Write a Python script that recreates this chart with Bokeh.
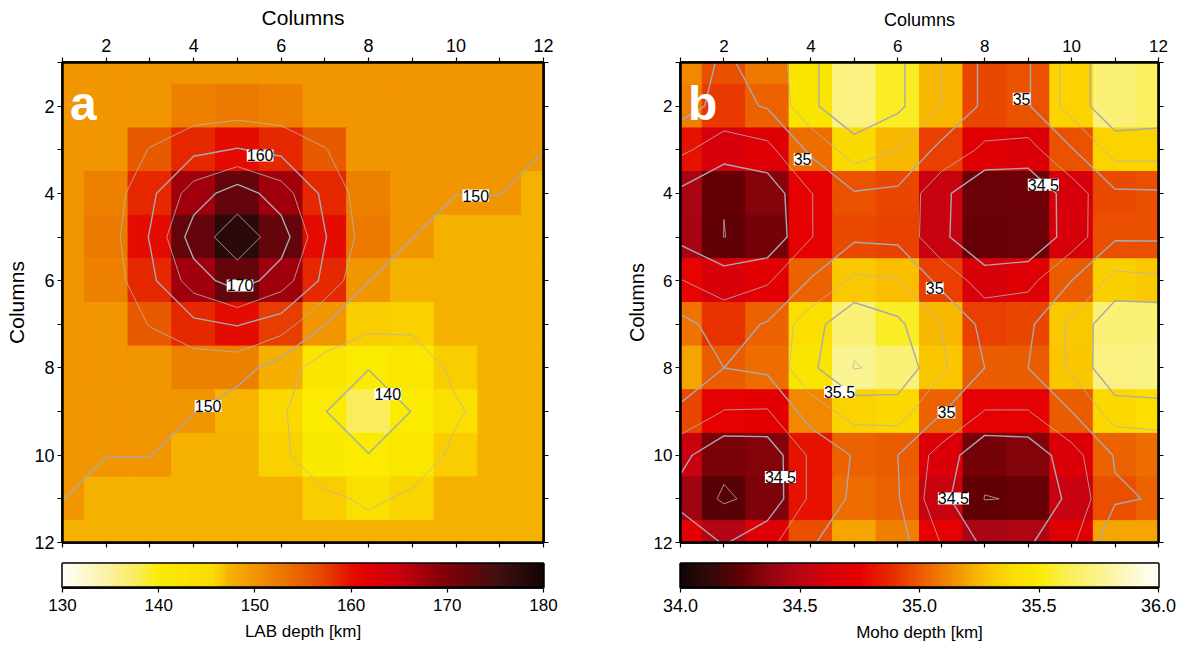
import numpy as np
from bokeh.plotting import figure
from bokeh.models import (Range1d, FixedTicker, LinearColorMapper, LabelSet, Label,
                          ColumnDataSource, LinearAxis)
from bokeh.core.properties import value
from bokeh.layouts import row, column
from bokeh.transform import linear_cmap
from bokeh.embed import file_html
from bokeh.resources import INLINE

# ---------------- data ----------------
columns = list(range(1, 13))
rows = list(range(1, 13))

lab_depth = [
    [150.1, 150.1, 150.1, 150.1, 150.1, 150.1, 150.1, 150.1, 150.1, 150.1, 150.1, 150.1],
    [150.1, 150.1, 150.1, 152.0, 152.5, 152.0, 150.1, 150.1, 150.1, 150.1, 150.1, 150.1],
    [150.1, 150.1, 155.3, 158.7, 160.3, 158.7, 155.3, 150.1, 150.1, 150.1, 150.1, 150.1],
    [150.1, 152.0, 158.7, 167.5, 172.5, 167.5, 158.7, 152.0, 150.1, 150.1, 150.1, 147.5],
    [150.1, 152.5, 160.3, 172.5, 177.8, 172.5, 160.3, 152.5, 150.1, 147.5, 147.5, 147.5],
    [150.1, 152.0, 158.7, 167.5, 172.5, 167.5, 158.7, 150.1, 147.5, 147.5, 147.5, 147.5],
    [150.1, 150.1, 155.3, 158.7, 160.3, 157.5, 150.1, 146.3, 146.1, 147.5, 147.5, 147.5],
    [150.1, 150.1, 150.1, 152.0, 152.0, 147.7, 142.2, 140.1, 141.7, 146.3, 147.5, 147.5],
    [150.1, 150.1, 150.1, 150.1, 147.3, 145.8, 140.1, 137.5, 140.1, 144.3, 147.5, 147.5],
    [150.1, 150.1, 150.1, 147.5, 147.5, 146.2, 140.6, 140.1, 141.7, 146.3, 147.5, 147.5],
    [150.1, 147.5, 147.5, 147.5, 147.5, 147.5, 146.3, 144.1, 146.0, 147.5, 147.5, 147.5],
    [147.5, 147.5, 147.5, 147.5, 147.5, 147.5, 147.5, 147.5, 147.5, 147.5, 147.5, 147.5],
]

moho_depth = [
    [35.12, 34.97, 35.08, 35.45, 35.72, 35.55, 35.25, 34.95, 34.98, 35.35, 35.70, 35.65],
    [35.10, 34.92, 35.02, 35.45, 35.72, 35.55, 35.25, 34.95, 34.98, 35.35, 35.70, 35.65],
    [34.80, 34.62, 34.68, 35.05, 35.38, 35.25, 34.93, 34.70, 34.66, 34.98, 35.35, 35.35],
    [34.45, 34.253, 34.34, 34.74, 34.98, 34.95, 34.57, 34.27, 34.28, 34.62, 34.96, 34.97],
    [34.44, 34.248, 34.30, 34.74, 34.96, 34.94, 34.56, 34.26, 34.27, 34.62, 34.97, 34.97],
    [34.76, 34.63, 34.72, 35.02, 35.30, 35.27, 34.93, 34.63, 34.68, 35.00, 35.33, 35.30],
    [35.07, 34.90, 35.02, 35.40, 35.70, 35.55, 35.25, 34.93, 34.95, 35.30, 35.70, 35.70],
    [35.20, 35.00, 35.05, 35.45, 35.76, 35.70, 35.29, 35.00, 35.00, 35.29, 35.72, 35.73],
    [34.95, 34.74, 34.73, 35.12, 35.35, 35.37, 35.02, 34.74, 34.74, 35.00, 35.37, 35.40],
    [34.57, 34.31, 34.33, 34.80, 35.02, 35.00, 34.65, 34.30, 34.33, 34.65, 35.02, 35.05],
    [34.41, 34.22, 34.32, 34.80, 35.05, 35.02, 34.57, 34.245, 34.26, 34.57, 34.97, 35.02],
    [34.72, 34.48, 34.68, 34.97, 35.20, 35.10, 34.74, 34.45, 34.47, 34.70, 35.20, 35.20],
]

lab_ticks = [130, 140, 150, 160, 170, 180]
moho_ticks = [34.0, 34.5, 35.0, 35.5, 36.0]
moho_tick_labels = ["34.0", "34.5", "35.0", "35.5", "36.0"]
axis_major = [2, 4, 6, 8, 10, 12]
axis_minor = [1, 3, 5, 7, 9, 11]

lab_thick_levels = [140, 150, 160, 170]
lab_thin_levels = [145, 155, 165, 175]
moho_thick_levels = [34.5, 35.0, 35.5]
moho_thin_levels = [34.25, 34.75, 35.25, 35.75]

lab_label_text = ["160", "170", "150", "150", "140"]
lab_label_x = [5.52, 5.06, 10.45, 4.33, 8.44]
lab_label_y = [3.13, 6.11, 4.05, 8.87, 8.60]
moho_label_text = ["35", "35", "34.5", "35", "35.5", "35", "34.5", "34.5"]
moho_label_x = [8.85, 3.81, 9.35, 6.85, 4.66, 7.12, 3.30, 7.28]
moho_label_y = [1.83, 3.22, 3.80, 6.17, 8.55, 9.02, 10.50, 10.99]

# ---------------- palettes ----------------
def build_palette(anchors, n=256):
    t = np.array([a[0] for a in anchors])
    cols = np.array([a[1] for a in anchors], dtype=float)
    s = np.linspace(0, 1, n)
    out = []
    for v in s:
        r = np.interp(v, t, cols[:, 0]); g = np.interp(v, t, cols[:, 1]); b = np.interp(v, t, cols[:, 2])
        out.append("#%02x%02x%02x" % (int(round(r)), int(round(g)), int(round(b))))
    return out

lab_pal = build_palette([
    (0.00, (255, 255, 250)), (0.09, (250, 242, 165)), (0.16, (250, 236, 80)),
    (0.20, (250, 235, 0)), (0.31, (250, 220, 0)), (0.33, (249, 200, 0)),
    (0.34, (246, 182, 0)), (0.40, (241, 149, 0)), (0.47, (235, 112, 0)),
    (0.54, (230, 70, 0)), (0.60, (228, 15, 0)), (0.63, (228, 0, 0)),
    (0.70, (200, 0, 15)), (0.78, (140, 0, 10)), (0.85, (100, 5, 10)),
    (0.90, (70, 15, 18)), (1.00, (20, 5, 5))])

moho_pal = build_palette([
    (0.00, (20, 5, 5)), (0.06, (50, 10, 10)), (0.125, (100, 0, 5)),
    (0.19, (150, 5, 15)), (0.25, (185, 5, 20)), (0.31, (215, 0, 10)),
    (0.375, (230, 0, 0)), (0.45, (232, 50, 0)), (0.50, (235, 90, 0)),
    (0.55, (240, 128, 0)), (0.60, (245, 165, 0)), (0.65, (250, 200, 0)),
    (0.70, (250, 222, 0)), (0.75, (250, 235, 0)), (0.80, (250, 238, 70)),
    (0.875, (250, 242, 140)), (1.00, (255, 255, 250))])

FONT = "Liberation Sans"
THICK_COL = "#a8a8b2"
THIN_COL = "#b4b4b4"


def style_axis(ax, label_size, show_labels=True):
    ax.ticker = FixedTicker(ticks=axis_major, minor_ticks=axis_minor)
    ax.axis_line_color = "black"
    ax.axis_line_width = 2.5
    ax.major_tick_line_color = "black"
    ax.minor_tick_line_color = "black"
    ax.major_tick_line_width = 1.2
    ax.minor_tick_line_width = 1.2
    ax.major_tick_in = 0
    ax.major_tick_out = 5
    ax.minor_tick_in = 0
    ax.minor_tick_out = 5
    ax.major_label_text_font = FONT
    ax.axis_label_text_font = FONT
    ax.axis_label_text_font_style = "normal"
    ax.axis_label_text_color = "black"
    if show_labels:
        ax.major_label_text_color = "black"
        ax.major_label_text_font_size = label_size
    else:
        ax.major_label_text_color = None
        ax.major_label_text_font_size = "1px"
        ax.major_label_standoff = 0


def make_panel(vals, pal, lo, hi, thick, thin, ltext, lx, ly, letter,
               frame_w, left_b, right_b, tick_size, top_title_size, left_title_size):
    p = figure(frame_width=frame_w, frame_height=480,
               x_range=Range1d(1, 12), y_range=Range1d(12, 1),
               x_axis_location="above", output_backend="svg", toolbar_location=None,
               min_border_left=left_b, min_border_right=right_b,
               min_border_top=62, min_border_bottom=19)
    p.xgrid.visible = False
    p.ygrid.visible = False
    p.background_fill_color = "white"
    p.border_fill_color = "white"
    p.outline_line_color = "black"
    p.outline_line_width = 2.5

    xs, ys, vs = [], [], []
    for j, yv in enumerate(rows):
        for i, xv in enumerate(columns):
            xs.append(xv); ys.append(yv); vs.append(vals[j][i])
    src = ColumnDataSource(dict(x=xs, y=ys, v=vs))
    cmap = linear_cmap("v", pal, lo, hi)
    p.rect(x="x", y="y", width=1, height=1, source=src,
           fill_color=cmap, line_color=cmap, line_width=1.0)

    z = np.array(vals, dtype=float)
    p.contour(x=columns, y=rows, z=z, levels=thin, line_color=THIN_COL, line_width=0.8)
    p.contour(x=columns, y=rows, z=z, levels=thick, line_color=THICK_COL, line_width=1.4)

    lsrc = ColumnDataSource(dict(x=lx, y=ly, t=ltext))
    p.add_layout(LabelSet(x="x", y="y", text="t", source=lsrc,
                          text_font=value(FONT), text_font_size=value("16px"),
                          text_color="black",
                          text_align="center", text_baseline="middle",
                          background_fill_color="white"))

    p.add_layout(Label(x=1.17, y=1.95, text=letter, text_color="white",
                       text_font=FONT, text_font_size="48px", text_font_style="bold",
                       text_baseline="alphabetic", text_align="left"))

    top = p.xaxis[0]
    style_axis(top, tick_size)
    top.axis_label = "Columns"
    top.axis_label_text_font_size = top_title_size
    top.major_label_standoff = 6
    top.axis_label_standoff = 7

    left = p.yaxis[0]
    style_axis(left, tick_size)
    left.axis_label = "Columns"
    left.axis_label_text_font_size = left_title_size
    left.major_label_standoff = 3
    left.axis_label_standoff = 3

    bottom = LinearAxis()
    style_axis(bottom, tick_size, show_labels=False)
    p.add_layout(bottom, "below")
    right = LinearAxis()
    style_axis(right, tick_size, show_labels=False)
    p.add_layout(right, "right")
    return p


def make_colorbar(pal, lo, hi, ticks, tick_labels, title, frame_w, left_b, right_b, lsize):
    cb = figure(frame_width=frame_w, frame_height=24,
                x_range=Range1d(lo, hi), y_range=Range1d(0, 1),
                output_backend="svg", toolbar_location=None,
                min_border_left=left_b, min_border_right=right_b,
                min_border_top=2, min_border_bottom=58)
    cb.xgrid.visible = False
    cb.ygrid.visible = False
    cb.yaxis.visible = False
    cb.border_fill_color = "white"
    cb.outline_line_color = "black"
    cb.outline_line_width = 2.5
    mapper = LinearColorMapper(palette=pal, low=lo, high=hi)
    grad = np.linspace(lo, hi, 600).reshape(1, -1)
    cb.image(image=[grad], x=lo, y=0, dw=hi - lo, dh=1, color_mapper=mapper)
    ax = cb.xaxis[0]
    ax.ticker = FixedTicker(ticks=ticks)
    ax.major_label_overrides = {t: l for t, l in zip(ticks, tick_labels)}
    ax.axis_line_color = "black"
    ax.axis_line_width = 2.5
    ax.major_tick_line_color = "black"
    ax.major_tick_line_width = 1.2
    ax.major_tick_in = 0
    ax.major_tick_out = 5
    ax.minor_tick_line_color = None
    ax.major_label_text_font = FONT
    ax.major_label_text_font_size = lsize
    ax.major_label_text_color = "black"
    ax.major_label_standoff = 6
    ax.axis_label = title
    ax.axis_label_text_font = FONT
    ax.axis_label_text_font_size = "17px"
    ax.axis_label_text_font_style = "normal"
    ax.axis_label_text_color = "black"
    ax.axis_label_standoff = 8
    return cb


pa = make_panel(lab_depth, lab_pal, 130, 180, lab_thick_levels, lab_thin_levels,
                lab_label_text, lab_label_x, lab_label_y, "a",
                481, 62, 20, "18px", "21px", "21px")
pb = make_panel(moho_depth, moho_pal, 34, 36, moho_thick_levels, moho_thin_levels,
                moho_label_text, moho_label_x, moho_label_y, "b",
                478, 117, 22, "17px", "18px", "20px")
cba = make_colorbar(lab_pal, 130, 180, lab_ticks, [str(t) for t in lab_ticks],
                    "LAB depth [km]", 481, 62, 20, "17px")
cbb = make_colorbar(moho_pal, 34, 36, moho_ticks, moho_tick_labels,
                    "Moho depth [km]", 478, 117, 22, "18px")

layout = row(column(pa, cba), column(pb, cbb))
open("out.html", "w").write(file_html(layout, INLINE))
